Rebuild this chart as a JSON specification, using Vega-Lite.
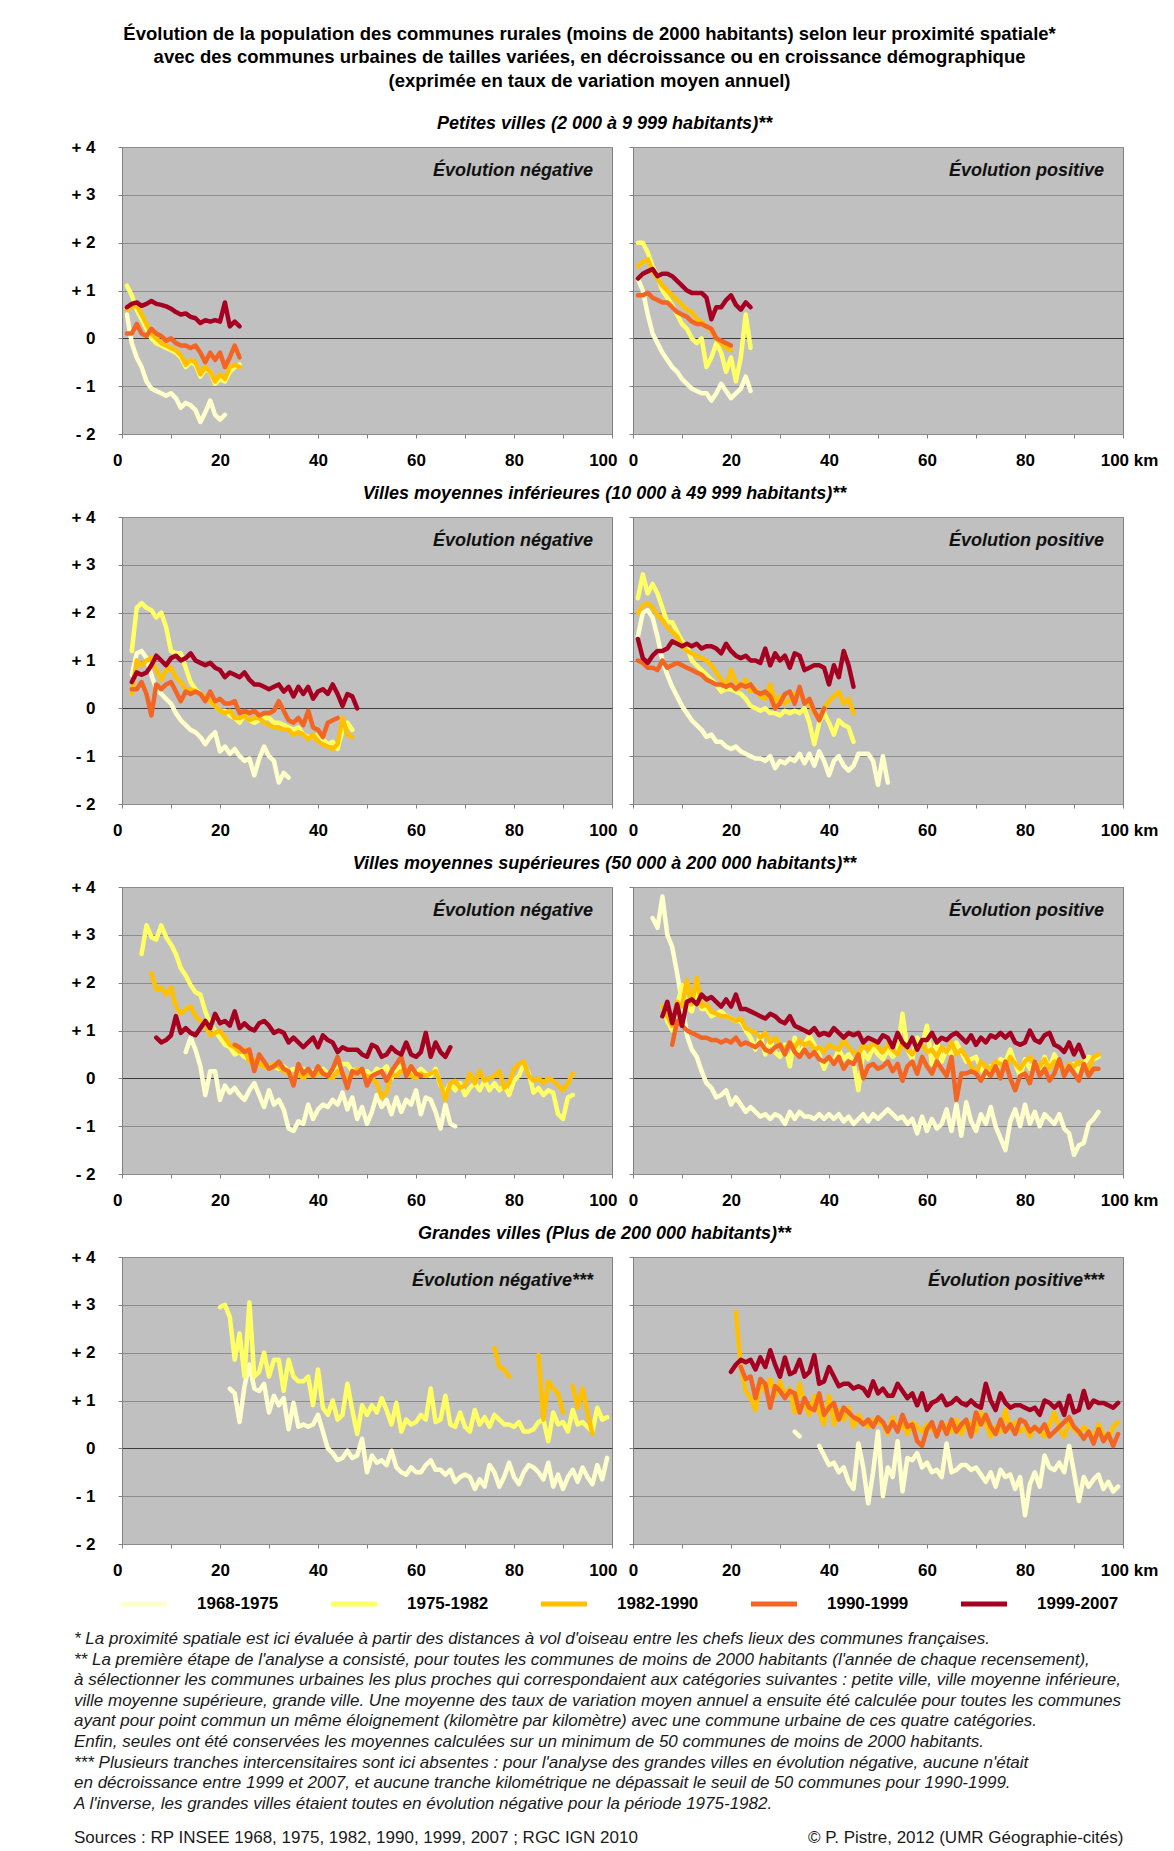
{
"$schema":"https://vega.github.io/schema/vega-lite/v6.json",
"padding":{"left":70,"top":24,"right":8,"bottom":2},
"background":"white",
"title":{"text":["Évolution de la population des communes rurales (moins de 2000 habitants) selon leur proximité spatiale*","avec des communes urbaines de tailles variées, en décroissance ou en croissance démographique","(exprimée en taux de variation moyen annuel)"],"font":"Liberation Sans","fontSize":18.5,"fontWeight":"bold","lineHeight":23.5,"anchor":"middle","frame":"bounds","dx":-26,"offset":24.5,"color":"#000"},
"datasets":{
"periodes":[{"s":"a","periode":"1968-1975"},{"s":"b","periode":"1975-1982"},{"s":"c","periode":"1982-1990"},{"s":"d","periode":"1990-1999"},{"s":"e","periode":"1999-2007"}],
"taux":[
{"p":1,"k":1,"a":0.5,"b":1.1,"c":0.6,"d":0.1,"e":0.65},
{"p":1,"k":2,"a":-0.1,"b":0.9,"c":0.65,"d":0.1,"e":0.72},
{"p":1,"k":3,"a":-0.4,"b":0.6,"c":0.7,"d":0.3,"e":0.75},
{"p":1,"k":4,"a":-0.6,"b":0.4,"c":0.5,"d":0.1,"e":0.68},
{"p":1,"k":5,"a":-0.9,"b":0.2,"c":0.3,"d":0.05,"e":0.72},
{"p":1,"k":6,"a":-1.05,"b":0,"c":0.1,"d":0.2,"e":0.78},
{"p":1,"k":7,"a":-1.1,"b":-0.1,"c":0,"d":0.1,"e":0.72},
{"p":1,"k":8,"a":-1.15,"b":-0.15,"c":-0.1,"d":0.05,"e":0.7},
{"p":1,"k":9,"a":-1.2,"b":-0.2,"c":-0.15,"d":-0.05,"e":0.67},
{"p":1,"k":10,"a":-1.15,"b":-0.25,"c":-0.2,"d":0,"e":0.62},
{"p":1,"k":11,"a":-1.25,"b":-0.3,"c":-0.25,"d":-0.1,"e":0.55},
{"p":1,"k":12,"a":-1.45,"b":-0.4,"c":-0.35,"d":-0.15,"e":0.5},
{"p":1,"k":13,"a":-1.35,"b":-0.6,"c":-0.55,"d":-0.15,"e":0.52},
{"p":1,"k":14,"a":-1.4,"b":-0.5,"c":-0.45,"d":-0.2,"e":0.45},
{"p":1,"k":15,"a":-1.5,"b":-0.55,"c":-0.5,"d":-0.15,"e":0.42},
{"p":1,"k":16,"a":-1.75,"b":-0.8,"c":-0.75,"d":-0.3,"e":0.32},
{"p":1,"k":17,"a":-1.55,"b":-0.65,"c":-0.6,"d":-0.5,"e":0.38},
{"p":1,"k":18,"a":-1.3,"b":-0.7,"c":-0.7,"d":-0.3,"e":0.35},
{"p":1,"k":19,"a":-1.6,"b":-0.95,"c":-0.9,"d":-0.45,"e":0.38},
{"p":1,"k":20,"a":-1.7,"b":-0.85,"c":-0.75,"d":-0.3,"e":0.35},
{"p":1,"k":21,"a":-1.6,"b":-0.9,"c":-0.85,"d":-0.6,"e":0.75},
{"p":1,"k":22,"b":-0.7,"c":-0.6,"d":-0.4,"e":0.25},
{"p":1,"k":23,"b":-0.6,"c":-0.55,"d":-0.15,"e":0.35},
{"p":1,"k":24,"b":-0.55,"c":-0.6,"d":-0.4,"e":0.25},
{"p":2,"k":1,"a":1.25,"b":2,"c":1.5,"d":0.9,"e":1.25},
{"p":2,"k":2,"a":1,"b":2,"c":1.6,"d":0.9,"e":1.35},
{"p":2,"k":3,"a":0.5,"b":1.8,"c":1.65,"d":0.95,"e":1.4},
{"p":2,"k":4,"a":0.1,"b":1.5,"c":1.4,"d":0.85,"e":1.45},
{"p":2,"k":5,"a":-0.1,"b":1.3,"c":1.25,"d":0.8,"e":1.3},
{"p":2,"k":6,"a":-0.3,"b":1,"c":1.1,"d":0.75,"e":1.35},
{"p":2,"k":7,"a":-0.45,"b":0.85,"c":1,"d":0.75,"e":1.35},
{"p":2,"k":8,"a":-0.6,"b":0.7,"c":0.9,"d":0.65,"e":1.3},
{"p":2,"k":9,"a":-0.7,"b":0.5,"c":0.8,"d":0.55,"e":1.2},
{"p":2,"k":10,"a":-0.85,"b":0.3,"c":0.7,"d":0.5,"e":1.1},
{"p":2,"k":11,"a":-0.95,"b":0.2,"c":0.6,"d":0.45,"e":1},
{"p":2,"k":12,"a":-1.05,"b":0,"c":0.55,"d":0.35,"e":0.95},
{"p":2,"k":13,"a":-1.1,"b":-0.1,"c":0.4,"d":0.3,"e":0.95},
{"p":2,"k":14,"a":-1.15,"b":0,"c":0.35,"d":0.3,"e":0.95},
{"p":2,"k":15,"a":-1.15,"b":-0.6,"c":0.25,"d":0.25,"e":0.85},
{"p":2,"k":16,"a":-1.3,"b":-0.4,"c":0.15,"d":0.2,"e":0.4},
{"p":2,"k":17,"a":-1.15,"b":-0.1,"c":0,"d":0,"e":0.65},
{"p":2,"k":18,"a":-0.95,"b":-0.3,"c":-0.1,"d":-0.05,"e":0.65},
{"p":2,"k":19,"a":-1.1,"b":-0.7,"c":-0.2,"d":-0.1,"e":0.8},
{"p":2,"k":20,"a":-1.25,"b":-0.4,"c":-0.25,"d":-0.15,"e":0.9},
{"p":2,"k":21,"a":-1.15,"b":-0.9,"e":0.7},
{"p":2,"k":22,"a":-1.05,"b":-0.4,"e":0.6},
{"p":2,"k":23,"a":-0.8,"b":0.5,"e":0.75},
{"p":2,"k":24,"a":-1.1,"b":-0.2,"e":0.65},
{"p":3,"k":2,"a":0.7,"b":1.2,"c":0.3,"d":0.4,"e":0.55},
{"p":3,"k":3,"a":1.15,"b":2.1,"c":1,"d":0.4,"e":0.75},
{"p":3,"k":4,"a":1.2,"b":2.2,"c":0.9,"d":0.55,"e":0.7},
{"p":3,"k":5,"a":1.05,"b":2.1,"c":1,"d":0.3,"e":0.75},
{"p":3,"k":6,"a":0.7,"b":2.05,"c":1.05,"d":-0.15,"e":0.9},
{"p":3,"k":7,"a":0.4,"b":1.9,"c":0.8,"d":0.5,"e":1.1},
{"p":3,"k":8,"a":0.3,"b":2,"c":0.6,"d":0.4,"e":1},
{"p":3,"k":9,"a":0.2,"b":1.7,"c":0.8,"d":0.5,"e":0.9},
{"p":3,"k":10,"a":0.1,"b":1.2,"c":0.85,"d":0.55,"e":1.05},
{"p":3,"k":11,"a":-0.1,"b":1.15,"c":0.65,"d":0.35,"e":1.1},
{"p":3,"k":12,"a":-0.25,"b":1.15,"c":0.55,"d":0.15,"e":1},
{"p":3,"k":13,"a":-0.35,"b":0.85,"c":0.4,"d":0.35,"e":1.05},
{"p":3,"k":14,"a":-0.45,"b":0.55,"c":0.4,"d":0.3,"e":1.15},
{"p":3,"k":15,"a":-0.5,"b":0.4,"c":0.35,"d":0.35,"e":1},
{"p":3,"k":16,"a":-0.6,"b":0.3,"c":0.3,"d":0.3,"e":0.95},
{"p":3,"k":17,"a":-0.75,"b":0.2,"c":0.25,"d":0.15,"e":0.9},
{"p":3,"k":18,"a":-0.6,"b":0.15,"c":0.15,"d":0.35,"e":0.95},
{"p":3,"k":19,"a":-0.5,"b":0.05,"c":0.05,"d":0.15,"e":0.85},
{"p":3,"k":20,"a":-0.9,"b":-0.05,"c":-0.05,"d":0.2,"e":0.8},
{"p":3,"k":21,"a":-0.8,"b":-0.05,"c":-0.1,"d":0.1,"e":0.65},
{"p":3,"k":22,"a":-0.95,"b":-0.15,"c":-0.05,"d":0.1,"e":0.75},
{"p":3,"k":23,"a":-0.85,"b":-0.2,"c":-0.2,"d":0.15,"e":0.7},
{"p":3,"k":24,"a":-1,"b":-0.3,"c":-0.2,"d":-0.1,"e":0.65},
{"p":3,"k":25,"a":-1.1,"b":-0.15,"c":-0.15,"d":-0.05,"e":0.75},
{"p":3,"k":26,"a":-1.05,"b":-0.25,"c":-0.25,"d":-0.1,"e":0.6},
{"p":3,"k":27,"a":-1.4,"b":-0.3,"c":-0.2,"d":-0.05,"e":0.5},
{"p":3,"k":28,"a":-1.05,"b":-0.25,"c":-0.2,"d":-0.15,"e":0.5},
{"p":3,"k":29,"a":-0.8,"b":-0.2,"c":-0.3,"d":-0.1,"e":0.45},
{"p":3,"k":30,"a":-1,"b":-0.2,"c":-0.35,"d":-0.1,"e":0.4},
{"p":3,"k":31,"a":-1.1,"b":-0.3,"c":-0.4,"d":-0.05,"e":0.45},
{"p":3,"k":32,"a":-1.55,"b":-0.3,"c":-0.4,"d":0.15,"e":0.5},
{"p":3,"k":33,"a":-1.35,"b":-0.35,"c":-0.45,"d":-0.05,"e":0.35},
{"p":3,"k":34,"a":-1.45,"b":-0.4,"c":-0.45,"d":-0.25,"e":0.45},
{"p":3,"k":35,"b":-0.45,"c":-0.55,"d":-0.3,"e":0.25},
{"p":3,"k":36,"b":-0.4,"c":-0.5,"d":-0.2,"e":0.45},
{"p":3,"k":37,"b":-0.55,"c":-0.55,"d":-0.35,"e":0.3},
{"p":3,"k":38,"b":-0.6,"c":-0.65,"d":-0.05,"e":0.45},
{"p":3,"k":39,"b":-0.6,"c":-0.55,"d":-0.4,"e":0.2},
{"p":3,"k":40,"b":-0.55,"c":-0.7,"d":-0.45,"e":0.35},
{"p":3,"k":41,"b":-0.65,"c":-0.75,"d":-0.6,"e":0.4},
{"p":3,"k":42,"b":-0.75,"c":-0.8,"d":-0.3,"e":0.3},
{"p":3,"k":43,"b":-0.7,"c":-0.85,"d":-0.25,"e":0.5},
{"p":3,"k":44,"b":-0.85,"c":-0.75,"d":-0.2,"e":0.3},
{"p":3,"k":45,"b":-0.45,"c":-0.2,"e":0.05},
{"p":3,"k":46,"b":-0.3,"c":-0.55,"e":0.3},
{"p":3,"k":47,"b":-0.45,"c":-0.6,"e":0.25},
{"p":3,"k":48,"e":0},
{"p":4,"k":1,"a":1.5,"b":2.3,"c":2,"d":1,"e":1.45},
{"p":4,"k":2,"a":2,"b":2.8,"c":2.15,"d":0.95,"e":1.05},
{"p":4,"k":3,"a":2.05,"b":2.4,"c":2.2,"d":0.85,"e":0.95},
{"p":4,"k":4,"a":1.9,"b":2.6,"c":2.1,"d":0.85,"e":1.1},
{"p":4,"k":5,"a":1.5,"b":2.4,"c":1.95,"d":0.8,"e":1.2},
{"p":4,"k":6,"a":1,"b":2.1,"c":1.85,"d":1,"e":1.2},
{"p":4,"k":7,"a":0.7,"b":1.8,"c":1.7,"d":0.85,"e":1.25},
{"p":4,"k":8,"a":0.45,"b":1.8,"c":1.6,"d":0.9,"e":1.4},
{"p":4,"k":9,"a":0.25,"b":1.6,"c":1.5,"d":0.95,"e":1.35},
{"p":4,"k":10,"a":0.05,"b":1.4,"c":1.3,"d":0.9,"e":1.3},
{"p":4,"k":11,"a":-0.1,"b":1.3,"c":1.2,"d":0.85,"e":1.35},
{"p":4,"k":12,"a":-0.25,"b":1,"c":1.15,"d":0.8,"e":1.3},
{"p":4,"k":13,"a":-0.35,"b":0.9,"c":1.1,"d":0.75,"e":1.35},
{"p":4,"k":14,"a":-0.45,"b":0.8,"c":1.05,"d":0.7,"e":1.25},
{"p":4,"k":15,"a":-0.6,"b":0.7,"c":1,"d":0.6,"e":1.3},
{"p":4,"k":16,"a":-0.55,"b":0.6,"c":0.9,"d":0.55,"e":1.3},
{"p":4,"k":17,"a":-0.7,"b":0.5,"c":0.75,"d":0.5,"e":1.25},
{"p":4,"k":18,"a":-0.7,"b":0.35,"c":0.6,"d":0.5,"e":1.15},
{"p":4,"k":19,"a":-0.8,"b":0.4,"c":0.45,"d":0.45,"e":1.35},
{"p":4,"k":20,"a":-0.85,"b":0.4,"c":0.8,"d":0.5,"e":1.2},
{"p":4,"k":21,"a":-0.8,"b":0.35,"c":0.55,"d":0.4,"e":1.1},
{"p":4,"k":22,"a":-0.9,"b":0.3,"c":0.45,"d":0.5,"e":1.05},
{"p":4,"k":23,"a":-0.95,"b":0.2,"c":0.6,"d":0.45,"e":1.1},
{"p":4,"k":24,"a":-1,"b":0.05,"c":0.35,"d":0.5,"e":1},
{"p":4,"k":25,"a":-1.05,"b":0,"c":0.4,"d":0.35,"e":1},
{"p":4,"k":26,"a":-1.05,"b":-0.05,"c":0.25,"d":0.3,"e":0.95},
{"p":4,"k":27,"a":-1.1,"b":0,"c":0.2,"d":0.35,"e":1.25},
{"p":4,"k":28,"a":-1,"b":-0.1,"c":0.5,"d":0.25,"e":0.9},
{"p":4,"k":29,"a":-1.25,"b":-0.1,"c":0.15,"d":0,"e":1.15},
{"p":4,"k":30,"a":-1.1,"b":-0.15,"c":0.25,"d":0.1,"e":1},
{"p":4,"k":31,"a":-1.15,"b":-0.05,"c":0.1,"d":0.3,"e":1.1},
{"p":4,"k":32,"a":-1.05,"b":-0.1,"c":0.2,"d":0.35,"e":0.85},
{"p":4,"k":33,"a":-1.1,"b":-0.05,"c":0.3,"d":0.1,"e":1.15},
{"p":4,"k":34,"a":-0.95,"b":-0.1,"c":0.35,"d":0.45,"e":1.1},
{"p":4,"k":35,"a":-1.15,"b":0,"c":0.15,"d":0.1,"e":0.8},
{"p":4,"k":36,"a":-0.95,"b":-0.3,"c":0.1,"d":0.2,"e":0.85},
{"p":4,"k":37,"a":-1.2,"b":-0.75,"c":-0.1,"d":-0.05,"e":0.9},
{"p":4,"k":38,"a":-0.9,"b":-0.3,"c":-0.2,"d":-0.25,"e":0.9},
{"p":4,"k":39,"a":-1.1,"b":-0.1,"c":0,"d":0,"e":0.85},
{"p":4,"k":40,"a":-1.4,"b":-0.3,"c":0.15,"e":0.5},
{"p":4,"k":41,"a":-1.1,"b":-0.55,"c":0.25,"e":0.9},
{"p":4,"k":42,"a":-1,"b":-0.25,"c":0.35,"e":0.65},
{"p":4,"k":43,"a":-1.2,"b":-0.35,"c":0.1,"e":1.2},
{"p":4,"k":44,"a":-1.3,"b":-0.4,"c":0.2,"e":0.9},
{"p":4,"k":45,"a":-1.2,"b":-0.7,"c":-0.1,"e":0.45},
{"p":4,"k":46,"a":-0.95},
{"p":4,"k":47,"a":-0.95},
{"p":4,"k":48,"a":-0.95},
{"p":4,"k":49,"a":-1.1},
{"p":4,"k":50,"a":-1.6},
{"p":4,"k":51,"a":-1},
{"p":4,"k":52,"a":-1.55},
{"p":5,"k":4,"b":2.6},
{"p":5,"k":5,"b":3.2},
{"p":5,"k":6,"b":2.95,"c":2.2},
{"p":5,"k":7,"b":2.9,"c":1.85,"e":0.85},
{"p":5,"k":8,"b":3.2,"c":1.9,"e":0.75},
{"p":5,"k":9,"b":2.95,"c":1.75,"e":0.8},
{"p":5,"k":10,"b":2.8,"c":1.9,"e":0.9},
{"p":5,"k":11,"b":2.6,"c":1.5,"e":1.3},
{"p":5,"k":12,"b":2.3,"c":1.35,"e":0.95},
{"p":5,"k":13,"a":0.55,"b":2.15,"c":1.45,"e":1.05},
{"p":5,"k":14,"a":0.85,"b":1.95,"c":1.5,"e":0.95},
{"p":5,"k":15,"a":0.6,"b":1.8,"c":1.3,"e":0.9},
{"p":5,"k":16,"a":0.25,"b":1.75,"c":1.2,"e":1.05},
{"p":5,"k":17,"a":-0.35,"b":1.4,"c":1.1,"e":1.2},
{"p":5,"k":18,"a":0.15,"b":1.15,"c":0.9,"e":1.05},
{"p":5,"k":19,"a":0.15,"b":1,"c":0.95,"e":1.35},
{"p":5,"k":20,"a":-0.45,"b":0.85,"c":1,"e":1.15},
{"p":5,"k":21,"a":-0.15,"b":0.7,"c":0.85,"e":1.2},
{"p":5,"k":22,"a":-0.3,"b":0.65,"c":0.7,"e":1.1},
{"p":5,"k":23,"a":-0.2,"b":0.5,"c":0.65,"d":0.7,"e":1.4},
{"p":5,"k":24,"a":-0.35,"b":0.55,"c":0.55,"d":0.65,"e":1.05},
{"p":5,"k":25,"a":-0.45,"b":0.45,"c":0.6,"d":0.55,"e":1.15},
{"p":5,"k":26,"a":-0.25,"b":0.4,"c":0.35,"d":0.6,"e":1.05},
{"p":5,"k":27,"a":-0.1,"b":0.3,"c":0.4,"d":0.15,"e":1},
{"p":5,"k":28,"a":-0.35,"b":0.3,"c":0.3,"d":0.5,"e":1.15},
{"p":5,"k":29,"a":-0.6,"b":0.25,"c":0.25,"d":0.35,"e":1.2},
{"p":5,"k":30,"a":-0.25,"b":0.25,"c":0.2,"d":0.2,"e":1.1},
{"p":5,"k":31,"a":-0.55,"b":0.25,"c":0.3,"d":0.25,"e":0.95},
{"p":5,"k":32,"a":-0.45,"b":0.2,"c":0.25,"d":0.35,"e":1},
{"p":5,"k":33,"a":-0.65,"b":0.25,"c":0.15,"d":0.2,"e":0.95},
{"p":5,"k":34,"a":-1.05,"b":0.15,"c":0.1,"d":0.15,"e":0.75},
{"p":5,"k":35,"a":-1.1,"b":0.2,"c":0.05,"d":-0.15,"e":0.85},
{"p":5,"k":36,"a":-0.9,"b":0.15,"c":0.1,"d":0.3,"e":0.75},
{"p":5,"k":37,"a":-0.95,"b":0.2,"c":0,"d":0.1,"e":0.65},
{"p":5,"k":38,"a":-0.55,"b":0.1,"c":0.1,"d":0.2,"e":0.75},
{"p":5,"k":39,"a":-0.85,"b":0.15,"c":0.05,"d":0.05,"e":0.85},
{"p":5,"k":40,"a":-0.65,"b":0.1,"c":0.1,"d":0.25,"e":0.65},
{"p":5,"k":41,"a":-0.55,"b":0.2,"c":0.1,"d":0.1,"e":0.9},
{"p":5,"k":42,"a":-0.6,"b":0.1,"c":0.05,"d":0.05,"e":0.8},
{"p":5,"k":43,"a":-0.45,"b":0.15,"c":0,"d":0.2,"e":0.75},
{"p":5,"k":44,"a":-0.55,"b":0.2,"c":0.15,"d":0.45,"e":0.55},
{"p":5,"k":45,"a":-0.3,"b":0.3,"c":0.1,"d":0.1,"e":0.65},
{"p":5,"k":46,"a":-0.65,"b":0.3,"c":0,"d":-0.2,"e":0.6},
{"p":5,"k":47,"a":-0.4,"b":0.15,"c":0.05,"d":0.15,"e":0.6},
{"p":5,"k":48,"a":-0.85,"b":0.2,"c":0.2,"d":0.1,"e":0.6},
{"p":5,"k":49,"a":-0.6,"b":0.1,"c":0.1,"d":0.2,"e":0.5},
{"p":5,"k":50,"a":-0.95,"b":0.15,"c":0.05,"d":-0.15,"e":0.45},
{"p":5,"k":51,"a":-0.7,"b":0.05,"c":0,"d":0.05,"e":0.7},
{"p":5,"k":52,"a":-0.35,"b":0.2,"c":-0.1,"d":0.1,"e":0.65},
{"p":5,"k":53,"a":-0.6,"b":0.15,"c":-0.4,"d":0.15,"e":0.45},
{"p":5,"k":54,"a":-0.45,"b":0.25,"c":-0.3,"d":-0.05,"e":0.5},
{"p":5,"k":55,"a":-0.75,"b":0,"c":0.1,"d":0.15,"e":0.65},
{"p":5,"k":56,"a":-0.4,"b":0.2,"c":0.05,"d":0.3,"e":0.55},
{"p":5,"k":57,"a":-0.7,"b":0.25,"c":0.15,"d":0.45,"e":0.5},
{"p":5,"k":58,"a":-0.45,"b":0.1,"c":0.2,"d":0.05,"e":0.75},
{"p":5,"k":59,"a":-0.55,"b":0.15,"c":0.05,"d":0.25,"e":0.5},
{"p":5,"k":60,"a":-0.25,"b":0.1,"c":0,"d":0.1,"e":0.45},
{"p":5,"k":61,"a":-0.75,"b":0.2,"c":0.1,"d":0.05,"e":0.55},
{"p":5,"k":62,"a":-0.4,"b":0.1,"c":0.05,"e":0.95},
{"p":5,"k":63,"a":-0.45,"b":0.05,"c":0.1,"e":0.45},
{"p":5,"k":64,"a":-0.7,"b":0.2,"c":0.15,"e":0.75},
{"p":5,"k":65,"a":-1.05,"b":-0.15,"c":-0.1,"e":0.55},
{"p":5,"k":66,"a":-0.55,"b":-0.3,"c":-0.45,"e":0.45},
{"p":5,"k":67,"a":-0.95,"b":-0.1,"c":-0.1,"e":0.65},
{"p":5,"k":68,"a":-1,"b":-0.25,"c":-0.05},
{"p":5,"k":69,"b":-0.1,"c":-0.2},
{"p":5,"k":70,"b":-0.35,"c":-0.15},
{"p":5,"k":71,"b":-0.2,"c":0.1},
{"p":5,"k":72,"b":-0.1,"c":-0.1},
{"p":5,"k":73,"b":-0.25,"c":0.15},
{"p":5,"k":74,"b":-0.05,"c":-0.05},
{"p":5,"k":75,"b":-0.25,"c":0},
{"p":5,"k":76,"b":-0.1,"c":0.05},
{"p":5,"k":77,"b":-0.25,"c":0.15},
{"p":5,"k":78,"b":-0.15,"c":-0.2},
{"p":5,"k":79,"b":-0.35,"c":-0.1},
{"p":5,"k":80,"b":-0.05,"c":0.2},
{"p":5,"k":81,"b":0.05,"c":0.3},
{"p":5,"k":82,"b":0.3,"c":0.35},
{"p":5,"k":83,"b":0.1,"c":0.05},
{"p":5,"k":84,"b":-0.3,"c":-0.05},
{"p":5,"k":85,"b":-0.2,"c":0},
{"p":5,"k":86,"b":-0.35,"c":-0.1},
{"p":5,"k":87,"b":-0.25,"c":0},
{"p":5,"k":88,"b":-0.3,"c":-0.05},
{"p":5,"k":89,"b":-0.75,"c":-0.15},
{"p":5,"k":90,"b":-0.85,"c":-0.25},
{"p":5,"k":91,"b":-0.4,"c":-0.1},
{"p":5,"k":92,"b":-0.35,"c":0.1},
{"p":6,"k":4,"a":3.35},
{"p":6,"k":5,"a":3.15},
{"p":6,"k":6,"a":3.8,"b":1.5,"c":1.5,"e":1.3},
{"p":6,"k":7,"a":3,"b":1.2,"c":1.3,"e":1.6},
{"p":6,"k":8,"a":2.75,"b":1,"c":1.1,"d":0.7,"e":1.15},
{"p":6,"k":9,"a":2.2,"b":1.5,"c":1.6,"d":1.2,"e":1.55},
{"p":6,"k":10,"a":1.6,"b":1.95,"c":1.5,"d":1.1,"e":1.1},
{"p":6,"k":11,"a":0.9,"b":1.5,"c":2.05,"d":1,"e":1.6},
{"p":6,"k":12,"a":0.6,"b":1.4,"c":1.55,"d":0.95,"e":1.65},
{"p":6,"k":13,"a":0.45,"b":1.8,"c":2.1,"d":0.9,"e":1.55},
{"p":6,"k":14,"a":0.15,"b":1.45,"c":1.5,"d":0.85,"e":1.75},
{"p":6,"k":15,"a":-0.1,"b":1.45,"c":1.55,"d":0.85,"e":1.65},
{"p":6,"k":16,"a":-0.2,"b":1.3,"c":1.4,"d":0.8,"e":1.7},
{"p":6,"k":17,"a":-0.4,"b":1.35,"c":1.35,"d":0.8,"e":1.6},
{"p":6,"k":18,"a":-0.35,"b":1.4,"c":1.3,"d":0.75,"e":1.5},
{"p":6,"k":19,"a":-0.25,"b":1.3,"c":1.3,"d":0.8,"e":1.65},
{"p":6,"k":20,"a":-0.55,"b":1.25,"c":1.25,"d":0.75,"e":1.5},
{"p":6,"k":21,"a":-0.4,"b":1.2,"c":1.2,"d":0.85,"e":1.75},
{"p":6,"k":22,"a":-0.55,"b":1.2,"c":1.25,"d":0.7,"e":1.45},
{"p":6,"k":23,"a":-0.7,"b":1,"c":1.05,"d":0.75,"e":1.45},
{"p":6,"k":24,"a":-0.6,"b":0.85,"c":1,"d":0.7,"e":1.4},
{"p":6,"k":25,"a":-0.7,"b":0.6,"c":0.95,"d":0.65,"e":1.35},
{"p":6,"k":26,"a":-0.8,"b":0.9,"c":0.85,"d":0.75,"e":1.3},
{"p":6,"k":27,"a":-0.75,"b":0.5,"c":0.95,"d":0.6,"e":1.25},
{"p":6,"k":28,"a":-0.85,"b":0.8,"c":0.75,"d":0.55,"e":1.35},
{"p":6,"k":29,"a":-0.75,"b":0.55,"c":0.85,"d":0.65,"e":1.3},
{"p":6,"k":30,"a":-0.8,"b":0.45,"c":0.7,"d":0.7,"e":1.2},
{"p":6,"k":31,"a":-0.95,"b":0.7,"c":0.6,"d":0.5,"e":1.15},
{"p":6,"k":32,"a":-0.7,"b":0.25,"c":0.75,"d":0.75,"e":1.3},
{"p":6,"k":33,"a":-0.85,"b":0.85,"c":0.65,"d":0.55,"e":1.1},
{"p":6,"k":34,"a":-0.7,"b":0.5,"c":0.8,"d":0.45,"e":1.05},
{"p":6,"k":35,"a":-0.8,"b":0.7,"c":0.7,"d":0.6,"e":1},
{"p":6,"k":36,"a":-0.8,"b":0.9,"c":0.75,"d":0.45,"e":0.95},
{"p":6,"k":37,"a":-0.85,"b":0.7,"c":0.6,"d":0.55,"e":1.05},
{"p":6,"k":38,"a":-0.75,"b":0.5,"c":0.65,"d":0.4,"e":0.9},
{"p":6,"k":39,"a":-0.85,"b":0.2,"c":0.55,"d":0.35,"e":0.95},
{"p":6,"k":40,"a":-0.75,"b":0.45,"c":0.7,"d":0.45,"e":0.9},
{"p":6,"k":41,"a":-0.85,"b":0.35,"c":0.65,"d":0.3,"e":1.05},
{"p":6,"k":42,"a":-0.75,"b":0.6,"c":0.6,"d":0.45,"e":0.95},
{"p":6,"k":43,"a":-0.9,"b":0.4,"c":0.8,"d":0.2,"e":0.85},
{"p":6,"k":44,"a":-0.8,"b":0.5,"c":0.65,"d":0.35,"e":0.95},
{"p":6,"k":45,"a":-0.95,"b":0.35,"c":0.55,"d":0.3,"e":0.9},
{"p":6,"k":46,"a":-0.85,"b":-0.25,"c":0.5,"d":0.5,"e":0.95},
{"p":6,"k":47,"a":-0.75,"b":0.55,"c":0.7,"d":0,"e":0.75},
{"p":6,"k":48,"a":-0.9,"b":0.4,"c":0.6,"d":0.25,"e":0.85},
{"p":6,"k":49,"a":-0.75,"b":0.65,"c":0.75,"d":0.3,"e":0.8},
{"p":6,"k":50,"a":-0.85,"b":0.5,"c":0.65,"d":0.2,"e":0.75},
{"p":6,"k":51,"a":-0.75,"b":0.4,"c":0.55,"d":0.25,"e":0.9},
{"p":6,"k":52,"a":-0.65,"b":0.6,"c":0.7,"d":0.35,"e":0.85},
{"p":6,"k":53,"a":-0.75,"b":0.45,"c":0.6,"d":0.15,"e":0.65},
{"p":6,"k":54,"a":-0.85,"b":0.55,"c":0.5,"d":0.3,"e":0.95},
{"p":6,"k":55,"a":-0.8,"b":1.35,"c":0.75,"d":-0.05,"e":0.75},
{"p":6,"k":56,"a":-0.95,"b":0.6,"c":0.6,"d":0.25,"e":0.65},
{"p":6,"k":57,"a":-0.85,"b":0.4,"c":0.5,"d":0.35,"e":0.85},
{"p":6,"k":58,"a":-1.15,"b":0.85,"c":0.65,"d":0.1,"e":0.6},
{"p":6,"k":59,"a":-0.8,"b":0.7,"c":0.7,"d":0.45,"e":0.8},
{"p":6,"k":60,"a":-1.1,"b":1.1,"c":0.55,"d":0.25,"e":0.8},
{"p":6,"k":61,"a":-0.85,"b":0.3,"c":0.6,"d":0.1,"e":0.95},
{"p":6,"k":62,"a":-1.05,"b":0.8,"c":0.45,"d":0.35,"e":0.75},
{"p":6,"k":63,"a":-0.95,"b":0.35,"c":0.65,"d":0.2,"e":0.85},
{"p":6,"k":64,"a":-0.65,"b":0.6,"c":0.55,"d":0.05,"e":0.8},
{"p":6,"k":65,"a":-1.1,"b":0.5,"c":0.75,"d":0.45,"e":0.9},
{"p":6,"k":66,"a":-0.55,"b":0.75,"c":0.5,"d":-0.45,"e":0.95},
{"p":6,"k":67,"a":-1.2,"b":0.55,"c":0.6,"d":0.1,"e":0.85},
{"p":6,"k":68,"a":-0.5,"b":0.35,"c":0.45,"d":0.1,"e":0.75},
{"p":6,"k":69,"a":-0.9,"b":0.4,"c":0.25,"d":0.15,"e":0.9},
{"p":6,"k":70,"a":-1.1,"b":0.45,"c":0.1,"d":0.1,"e":0.7},
{"p":6,"k":71,"a":-0.75,"b":0.2,"c":0.35,"d":-0.05,"e":0.85},
{"p":6,"k":72,"a":-0.95,"b":0.05,"c":0.25,"d":0.15,"e":0.75},
{"p":6,"k":73,"a":-0.6,"b":0.25,"c":0.2,"d":0.05,"e":0.9},
{"p":6,"k":74,"a":-1,"b":0.15,"c":0.35,"d":0.25,"e":0.85},
{"p":6,"k":75,"a":-1.25,"b":0.4,"c":0.3,"d":0,"e":0.95},
{"p":6,"k":76,"a":-1.5,"b":0.35,"c":0.2,"d":0.35,"e":0.85},
{"p":6,"k":77,"a":-0.9,"b":0.6,"c":0.45,"d":0,"e":0.95},
{"p":6,"k":78,"a":-0.65,"b":0.3,"c":0.3,"d":-0.25,"e":0.75},
{"p":6,"k":79,"a":-1,"b":0.05,"c":0.2,"d":0.05,"e":0.7},
{"p":6,"k":80,"a":-0.55,"b":0.4,"c":0.35,"d":0.1,"e":0.75},
{"p":6,"k":81,"a":-0.95,"b":0.2,"c":0.45,"d":-0.1,"e":1},
{"p":6,"k":82,"a":-0.7,"b":0.35,"c":0.3,"d":0.35,"e":0.8},
{"p":6,"k":83,"a":-1,"b":0.15,"c":0.25,"d":0.05,"e":0.75},
{"p":6,"k":84,"a":-0.75,"b":0.45,"c":0.4,"d":0.2,"e":0.9},
{"p":6,"k":85,"a":-0.85,"b":0.2,"c":0.2,"d":-0.05,"e":0.95},
{"p":6,"k":86,"a":-0.95,"b":0.5,"c":0.35,"d":0.1,"e":0.7},
{"p":6,"k":87,"a":-0.75,"b":0.3,"c":0.3,"d":0.4,"e":0.65},
{"p":6,"k":88,"a":-1.05,"b":0.1,"c":0.15,"d":0.05,"e":0.55},
{"p":6,"k":89,"a":-1.15,"b":0.25,"c":0.3,"d":0.25,"e":0.75},
{"p":6,"k":90,"a":-1.6,"b":0.3,"c":0.25,"d":0.1,"e":0.5},
{"p":6,"k":91,"a":-1.4,"b":0.15,"c":0.35,"d":-0.05,"e":0.7},
{"p":6,"k":92,"a":-1.35,"b":0.3,"c":0.3,"d":0.3,"e":0.45},
{"p":6,"k":93,"a":-0.95,"b":0.45,"c":0.2,"d":0.05},
{"p":6,"k":94,"a":-0.85,"b":0.4,"c":0.45,"d":0.2},
{"p":6,"k":95,"a":-0.7,"b":0.45,"c":0.5,"d":0.2},
{"p":7,"k":20,"b":2.95},
{"p":7,"k":21,"b":3},
{"p":7,"k":22,"a":1.25,"b":2.75},
{"p":7,"k":23,"a":1.15,"b":1.85},
{"p":7,"k":24,"a":0.55,"b":2.4},
{"p":7,"k":25,"a":1.3,"b":1.5},
{"p":7,"k":26,"a":1.75,"b":3.05},
{"p":7,"k":27,"a":1.25,"b":1.5},
{"p":7,"k":28,"a":1.2,"b":1.6},
{"p":7,"k":29,"a":1.35,"b":2},
{"p":7,"k":30,"a":0.75,"b":1.5},
{"p":7,"k":31,"a":1.1,"b":1.85},
{"p":7,"k":32,"a":0.9,"b":1.85},
{"p":7,"k":33,"a":1.05,"b":1.2},
{"p":7,"k":34,"a":0.4,"b":1.85},
{"p":7,"k":35,"a":0.95,"b":1.5},
{"p":7,"k":36,"a":0.45,"b":1.4},
{"p":7,"k":37,"a":0.5,"b":1.4},
{"p":7,"k":38,"a":0.45,"b":1.5},
{"p":7,"k":39,"a":0.5,"b":0.9},
{"p":7,"k":40,"a":0.7,"b":1.65},
{"p":7,"k":41,"a":0.35,"b":0.85},
{"p":7,"k":42,"a":0,"b":0.7},
{"p":7,"k":43,"a":-0.1,"b":1},
{"p":7,"k":44,"a":-0.25,"b":0.6},
{"p":7,"k":45,"a":-0.2,"b":0.7},
{"p":7,"k":46,"a":-0.05,"b":1.35},
{"p":7,"k":47,"a":-0.2,"b":0.8},
{"p":7,"k":48,"a":-0.15,"b":0.3},
{"p":7,"k":49,"a":0.2,"b":0.9},
{"p":7,"k":50,"a":-0.5,"b":0.7},
{"p":7,"k":51,"a":-0.15,"b":0.9},
{"p":7,"k":52,"a":-0.3,"b":0.75},
{"p":7,"k":53,"a":-0.25,"b":1.05},
{"p":7,"k":54,"a":-0.35,"b":0.8},
{"p":7,"k":55,"a":-0.05,"b":0.5},
{"p":7,"k":56,"a":-0.4,"b":0.95},
{"p":7,"k":57,"a":-0.5,"b":0.35},
{"p":7,"k":58,"a":-0.55,"b":0.6},
{"p":7,"k":59,"a":-0.4,"b":0.5},
{"p":7,"k":60,"a":-0.5,"b":0.55},
{"p":7,"k":61,"a":-0.5,"b":0.7},
{"p":7,"k":62,"a":-0.35,"b":0.6},
{"p":7,"k":63,"a":-0.25,"b":1.25},
{"p":7,"k":64,"a":-0.45,"b":0.55},
{"p":7,"k":65,"a":-0.45,"b":0.6},
{"p":7,"k":66,"a":-0.55,"b":1.1},
{"p":7,"k":67,"a":-0.45,"b":0.5},
{"p":7,"k":68,"a":-0.7,"b":0.45},
{"p":7,"k":69,"a":-0.6,"b":0.75},
{"p":7,"k":70,"a":-0.55,"b":0.45},
{"p":7,"k":71,"a":-0.6,"b":0.35},
{"p":7,"k":72,"a":-0.85,"b":0.8},
{"p":7,"k":73,"a":-0.65,"b":0.5},
{"p":7,"k":74,"a":-0.8,"b":0.65},
{"p":7,"k":75,"a":-0.35,"b":0.45},
{"p":7,"k":76,"a":-0.5,"b":0.7,"c":2.1},
{"p":7,"k":77,"a":-0.8,"b":0.6,"c":1.7},
{"p":7,"k":78,"a":-0.6,"b":0.5,"c":1.65},
{"p":7,"k":79,"a":-0.3,"b":0.5,"c":1.5},
{"p":7,"k":80,"a":-0.6,"b":0.45},
{"p":7,"k":81,"a":-0.75,"b":0.55},
{"p":7,"k":82,"a":-0.5,"b":0.35},
{"p":7,"k":83,"a":-0.35,"b":0.35},
{"p":7,"k":84,"a":-0.4,"b":0.4},
{"p":7,"k":85,"a":-0.5,"b":0.55,"c":1.95},
{"p":7,"k":86,"a":-0.65,"b":0.6,"c":0.6},
{"p":7,"k":87,"a":-0.3,"b":0.15,"c":1.4},
{"p":7,"k":88,"a":-0.8,"b":0.75,"c":1.25},
{"p":7,"k":89,"a":-0.55,"b":0.5,"c":1.15},
{"p":7,"k":90,"a":-0.85,"b":0.55,"c":0.75},
{"p":7,"k":91,"a":-0.6,"b":0.35},
{"p":7,"k":92,"a":-0.45,"b":0.8,"c":1.3},
{"p":7,"k":93,"a":-0.7,"b":0.5,"c":0.85},
{"p":7,"k":94,"a":-0.4,"b":0.55,"c":1.25},
{"p":7,"k":95,"a":-0.6,"b":0.45,"c":0.75},
{"p":7,"k":96,"a":-0.75,"b":0.35,"c":0.3},
{"p":7,"k":97,"a":-0.35,"b":0.85},
{"p":7,"k":98,"a":-0.65,"b":0.6},
{"p":7,"k":99,"a":-0.2,"b":0.65},
{"p":8,"k":20,"e":1.6},
{"p":8,"k":21,"c":2.85,"e":1.75},
{"p":8,"k":22,"c":1.7,"d":1.7,"e":1.85},
{"p":8,"k":23,"c":1.2,"d":1.45,"e":1.8},
{"p":8,"k":24,"c":1.05,"d":1.5,"e":1.85},
{"p":8,"k":25,"c":0.8,"d":1.05,"e":1.65},
{"p":8,"k":26,"c":1.4,"d":1.45,"e":1.9},
{"p":8,"k":27,"c":1.2,"d":1.35,"e":1.7},
{"p":8,"k":28,"c":1.45,"d":0.85,"e":2.05},
{"p":8,"k":29,"c":1.1,"d":1.3,"e":1.75},
{"p":8,"k":30,"c":1.4,"d":1.2,"e":1.5},
{"p":8,"k":31,"c":1.1,"d":1.05,"e":1.9},
{"p":8,"k":32,"c":1.25,"d":1.2,"e":1.55},
{"p":8,"k":33,"a":0.35,"c":0.75,"d":1.15,"e":1.6},
{"p":8,"k":34,"a":0.25,"c":1.35,"d":0.75,"e":1.85},
{"p":8,"k":35,"c":0.95,"d":1.05,"e":1.5},
{"p":8,"k":36,"c":0.7,"d":0.85,"e":1.6},
{"p":8,"k":37,"c":1.1,"d":0.8,"e":1.95},
{"p":8,"k":38,"a":0.05,"c":0.75,"d":1.15,"e":1.35},
{"p":8,"k":39,"a":-0.15,"c":0.5,"d":0.7,"e":1.4},
{"p":8,"k":40,"a":-0.35,"c":1.1,"d":0.85,"e":1.7},
{"p":8,"k":41,"a":-0.3,"c":0.5,"d":0.95,"e":1.5},
{"p":8,"k":42,"a":-0.5,"c":0.8,"d":0.6,"e":1.3},
{"p":8,"k":43,"a":-0.4,"c":0.6,"d":0.85,"e":1.35},
{"p":8,"k":44,"a":-0.7,"c":0.85,"d":0.75,"e":1.35},
{"p":8,"k":45,"a":-0.85,"c":0.45,"d":0.65,"e":1.25},
{"p":8,"k":46,"a":0.1,"c":0.7,"d":0.6,"e":1.3},
{"p":8,"k":47,"a":-0.4,"c":0.55,"d":0.5,"e":1.25},
{"p":8,"k":48,"a":-1.15,"c":0.45,"d":0.6,"e":1.1},
{"p":8,"k":49,"a":-0.5,"c":0.6,"d":0.45,"e":1.4},
{"p":8,"k":50,"a":0.35,"c":0.55,"d":0.65,"e":1.15},
{"p":8,"k":51,"a":-1,"c":0.5,"d":0.55,"e":1.25},
{"p":8,"k":52,"a":-0.4,"c":0.3,"d":0.35,"e":1.1},
{"p":8,"k":53,"a":-0.6,"c":0.65,"d":0.55,"e":1.1},
{"p":8,"k":54,"a":0.15,"c":0.4,"d":0.35,"e":1.35},
{"p":8,"k":55,"a":-0.9,"c":0.5,"d":0.7,"e":1.2},
{"p":8,"k":56,"a":-0.2,"c":0.3,"d":0.45,"e":1.05},
{"p":8,"k":57,"a":-0.25,"c":0.55,"d":0.5,"e":1.15},
{"p":8,"k":58,"a":-0.1,"c":0.45,"d":0.15,"e":0.9},
{"p":8,"k":59,"a":-0.4,"c":0.35,"d":0.05,"e":1.15},
{"p":8,"k":60,"a":-0.3,"c":0.5,"d":0.4,"e":0.8},
{"p":8,"k":61,"a":-0.5,"c":0.4,"d":0.55,"e":0.95},
{"p":8,"k":62,"a":-0.45,"c":0.3,"d":0.25,"e":1},
{"p":8,"k":63,"a":-0.6,"c":0.45,"d":0.55,"e":1.1},
{"p":8,"k":64,"a":0.1,"c":0.5,"d":0.3,"e":0.9},
{"p":8,"k":65,"a":-0.5,"c":0.35,"d":0.6,"e":0.95},
{"p":8,"k":66,"a":-0.45,"c":0.6,"d":0.35,"e":1.05},
{"p":8,"k":67,"a":-0.35,"c":0.3,"d":0.5,"e":0.95},
{"p":8,"k":68,"a":-0.35,"c":0.5,"d":0.6,"e":0.9},
{"p":8,"k":69,"a":-0.45,"c":0.55,"d":0.25,"e":1},
{"p":8,"k":70,"a":-0.4,"c":0.35,"d":0.75,"e":0.9},
{"p":8,"k":71,"a":-0.55,"c":0.75,"d":0.5,"e":0.85},
{"p":8,"k":72,"a":-0.7,"c":0.5,"d":0.7,"e":1.35},
{"p":8,"k":73,"a":-0.5,"c":0.25,"d":0.45,"e":1},
{"p":8,"k":74,"a":-0.8,"c":0.45,"d":0.3,"e":0.8},
{"p":8,"k":75,"a":-0.45,"c":0.35,"d":0.6,"e":1.15},
{"p":8,"k":76,"a":-0.6,"c":0.8,"d":0.35,"e":0.95},
{"p":8,"k":77,"a":-0.55,"c":0.4,"d":0.5,"e":0.85},
{"p":8,"k":78,"a":-0.85,"c":0.55,"d":0.3,"e":0.9},
{"p":8,"k":79,"a":-0.6,"c":0.35,"d":0.6,"e":0.9},
{"p":8,"k":80,"a":-1.4,"c":0.45,"d":0.55,"e":0.85},
{"p":8,"k":81,"a":-0.75,"c":0.25,"d":0.35,"e":0.8},
{"p":8,"k":82,"a":-0.5,"c":0.45,"d":0.45,"e":0.85},
{"p":8,"k":83,"a":-0.8,"c":0.35,"d":0.35,"e":0.7},
{"p":8,"k":84,"a":-0.15,"c":0.25,"d":0.5,"e":1},
{"p":8,"k":85,"a":-0.4,"c":0.5,"d":0.25,"e":0.95},
{"p":8,"k":86,"a":-0.45,"c":0.75,"d":0.35,"e":0.85},
{"p":8,"k":87,"a":-0.3,"c":0.4,"d":0.45,"e":0.95},
{"p":8,"k":88,"a":-0.5,"c":0.25,"d":0.55,"e":0.7},
{"p":8,"k":89,"a":0.05,"c":0.55,"d":0.65,"e":1.1},
{"p":8,"k":90,"a":-0.5,"c":0.4,"d":0.45,"e":0.75},
{"p":8,"k":91,"a":-1.1,"c":0.3,"d":0.35,"e":0.8},
{"p":8,"k":92,"a":-0.6,"c":0.45,"d":0.2,"e":1.2},
{"p":8,"k":93,"a":-0.8,"c":0.35,"d":0.35,"e":0.85},
{"p":8,"k":94,"a":-0.65,"c":0.2,"d":0.1,"e":1},
{"p":8,"k":95,"a":-0.55,"c":0.5,"d":0.4,"e":0.95},
{"p":8,"k":96,"a":-0.85,"c":0.3,"d":0.15,"e":0.95},
{"p":8,"k":97,"a":-0.7,"c":0.2,"d":0.3,"e":0.9},
{"p":8,"k":98,"a":-0.9,"c":0.45,"d":0.05,"e":0.85},
{"p":8,"k":99,"a":-0.8,"c":0.55,"d":0.3,"e":0.95}
]},
"vconcat":[{
"title":{"text":"Sources : RP INSEE 1968, 1975, 1982, 1990, 1999, 2007 ; RGC IGN 2010\u00a0\u00a0\u00a0\u00a0\u00a0\u00a0\u00a0\u00a0\u00a0\u00a0\u00a0\u00a0\u00a0\u00a0\u00a0\u00a0\u00a0\u00a0\u00a0\u00a0\u00a0\u00a0\u00a0\u00a0\u00a0\u00a0\u00a0\u00a0\u00a0\u00a0\u00a0\u00a0\u00a0\u00a0\u00a0\u00a0© P. Pistre, 2012 (UMR Géographie-cités)","orient":"bottom","anchor":"start","frame":"group","dx":-48,"offset":18,"font":"Liberation Sans","fontSize":17,"fontWeight":"normal","fontStyle":"normal","color":"#1a1a1a"},
"spacing":15,
"vconcat":[
{"spacing":15,"vconcat":[
{"title":{"text":"Petites villes (2 000 à 9 999 habitants)**","font":"Liberation Sans","fontSize":18,"fontStyle":"italic","fontWeight":"bold","anchor":"middle","frame":"bounds","dx":-11,"offset":5,"color":"#000"},
"bounds":"flush","spacing":21,"hconcat":[
{"width":490,"height":287,"data":{"name":"taux"},
"transform":[{"filter":"datum.p==1"},{"fold":["a","b","c","d","e"],"as":["s","v"]},{"lookup":"s","from":{"data":{"name":"periodes"},"key":"s","fields":["periode"]}}],
"title":{"text":"Évolution négative","font":"Liberation Sans","fontSize":18,"fontStyle":"italic","fontWeight":"bold","anchor":"end","frame":"group","dx":-19,"offset":-42,"color":"#111"},
"mark":{"type":"line","strokeWidth":4.5,"strokeJoin":"round","strokeCap":"round","invalid":"break-paths-filter-domains"},
"encoding":{
"x":{"field":"k","type":"quantitative","scale":{"domain":[0,100],"nice":false},"axis":{"title":null,"values":[0,10,20,30,40,50,60,70,80,90,100],"labelExpr":"datum.value % 20 === 0 ? datum.label : ''","labelAlign":{"condition":{"test":"datum.value === 100 || datum.value === 0","value":"right"},"value":"center"},"labelOffset":{"condition":{"test":"datum.value === 100","value":5},"value":0},"grid":false}},
"y":{"field":"v","type":"quantitative","scale":{"domain":[-2,4],"nice":false},"axis":{"title":null,"values":[-2,-1,0,1,2,3,4],"labelExpr":"datum.value > 0 ? '+ ' + datum.value : (datum.value < 0 ? '- ' + (-datum.value) : '0')","grid":true,"gridColor":{"condition":{"test":"datum.value === 0","value":"#3c3c3c"},"value":"#8c8c8c"}}},
"color":{"field":"periode","type":"nominal","scale":{"domain":["1968-1975","1975-1982","1982-1990","1990-1999","1999-2007"],"range":["#FFFFCC","#FFFF66","#FFC000","#F26522","#A50021"]},"legend":null}}},
{"width":490,"height":287,"data":{"name":"taux"},
"transform":[{"filter":"datum.p==2"},{"fold":["a","b","c","d","e"],"as":["s","v"]},{"lookup":"s","from":{"data":{"name":"periodes"},"key":"s","fields":["periode"]}}],
"title":{"text":"Évolution positive","font":"Liberation Sans","fontSize":18,"fontStyle":"italic","fontWeight":"bold","anchor":"end","frame":"group","dx":-19,"offset":-33,"color":"#111"},
"mark":{"type":"line","strokeWidth":4.5,"strokeJoin":"round","strokeCap":"round","invalid":"break-paths-filter-domains"},
"encoding":{
"x":{"field":"k","type":"quantitative","scale":{"domain":[0,100],"nice":false},"axis":{"title":null,"values":[0,10,20,30,40,50,60,70,80,90,100],"labelExpr":"datum.value === 100 ? '100  km' : (datum.value % 20 === 0 ? datum.label : '')","labelOffset":{"condition":{"test":"datum.value === 100","value":6},"value":0},"grid":false}},
"y":{"field":"v","type":"quantitative","scale":{"domain":[-2,4],"nice":false},"axis":{"title":null,"values":[-2,-1,0,1,2,3,4],"labels":false,"grid":true,"gridColor":{"condition":{"test":"datum.value === 0","value":"#3c3c3c"},"value":"#8c8c8c"}}},
"color":{"field":"periode","type":"nominal","scale":{"domain":["1968-1975","1975-1982","1982-1990","1990-1999","1999-2007"],"range":["#FFFFCC","#FFFF66","#FFC000","#F26522","#A50021"]},"legend":null}}}
]},
{"title":{"text":"Villes moyennes inférieures (10 000 à 49 999 habitants)**","font":"Liberation Sans","fontSize":18,"fontStyle":"italic","fontWeight":"bold","anchor":"middle","frame":"bounds","dx":-11,"offset":5,"color":"#000"},
"bounds":"flush","spacing":21,"hconcat":[
{"width":490,"height":287,"data":{"name":"taux"},
"transform":[{"filter":"datum.p==3"},{"fold":["a","b","c","d","e"],"as":["s","v"]},{"lookup":"s","from":{"data":{"name":"periodes"},"key":"s","fields":["periode"]}}],
"title":{"text":"Évolution négative","font":"Liberation Sans","fontSize":18,"fontStyle":"italic","fontWeight":"bold","anchor":"end","frame":"group","dx":-19,"offset":-42,"color":"#111"},
"mark":{"type":"line","strokeWidth":4.5,"strokeJoin":"round","strokeCap":"round","invalid":"break-paths-filter-domains"},
"encoding":{
"x":{"field":"k","type":"quantitative","scale":{"domain":[0,100],"nice":false},"axis":{"title":null,"values":[0,10,20,30,40,50,60,70,80,90,100],"labelExpr":"datum.value % 20 === 0 ? datum.label : ''","labelAlign":{"condition":{"test":"datum.value === 100 || datum.value === 0","value":"right"},"value":"center"},"labelOffset":{"condition":{"test":"datum.value === 100","value":5},"value":0},"grid":false}},
"y":{"field":"v","type":"quantitative","scale":{"domain":[-2,4],"nice":false},"axis":{"title":null,"values":[-2,-1,0,1,2,3,4],"labelExpr":"datum.value > 0 ? '+ ' + datum.value : (datum.value < 0 ? '- ' + (-datum.value) : '0')","grid":true,"gridColor":{"condition":{"test":"datum.value === 0","value":"#3c3c3c"},"value":"#8c8c8c"}}},
"color":{"field":"periode","type":"nominal","scale":{"domain":["1968-1975","1975-1982","1982-1990","1990-1999","1999-2007"],"range":["#FFFFCC","#FFFF66","#FFC000","#F26522","#A50021"]},"legend":null}}},
{"width":490,"height":287,"data":{"name":"taux"},
"transform":[{"filter":"datum.p==4"},{"fold":["a","b","c","d","e"],"as":["s","v"]},{"lookup":"s","from":{"data":{"name":"periodes"},"key":"s","fields":["periode"]}}],
"title":{"text":"Évolution positive","font":"Liberation Sans","fontSize":18,"fontStyle":"italic","fontWeight":"bold","anchor":"end","frame":"group","dx":-19,"offset":-33,"color":"#111"},
"mark":{"type":"line","strokeWidth":4.5,"strokeJoin":"round","strokeCap":"round","invalid":"break-paths-filter-domains"},
"encoding":{
"x":{"field":"k","type":"quantitative","scale":{"domain":[0,100],"nice":false},"axis":{"title":null,"values":[0,10,20,30,40,50,60,70,80,90,100],"labelExpr":"datum.value === 100 ? '100  km' : (datum.value % 20 === 0 ? datum.label : '')","labelOffset":{"condition":{"test":"datum.value === 100","value":6},"value":0},"grid":false}},
"y":{"field":"v","type":"quantitative","scale":{"domain":[-2,4],"nice":false},"axis":{"title":null,"values":[-2,-1,0,1,2,3,4],"labels":false,"grid":true,"gridColor":{"condition":{"test":"datum.value === 0","value":"#3c3c3c"},"value":"#8c8c8c"}}},
"color":{"field":"periode","type":"nominal","scale":{"domain":["1968-1975","1975-1982","1982-1990","1990-1999","1999-2007"],"range":["#FFFFCC","#FFFF66","#FFC000","#F26522","#A50021"]},"legend":null}}}
]},
{"title":{"text":"Villes moyennes supérieures (50 000 à 200 000 habitants)**","font":"Liberation Sans","fontSize":18,"fontStyle":"italic","fontWeight":"bold","anchor":"middle","frame":"bounds","dx":-11,"offset":5,"color":"#000"},
"bounds":"flush","spacing":21,"hconcat":[
{"width":490,"height":287,"data":{"name":"taux"},
"transform":[{"filter":"datum.p==5"},{"fold":["a","b","c","d","e"],"as":["s","v"]},{"lookup":"s","from":{"data":{"name":"periodes"},"key":"s","fields":["periode"]}}],
"title":{"text":"Évolution négative","font":"Liberation Sans","fontSize":18,"fontStyle":"italic","fontWeight":"bold","anchor":"end","frame":"group","dx":-19,"offset":-42,"color":"#111"},
"mark":{"type":"line","strokeWidth":4.5,"strokeJoin":"round","strokeCap":"round","invalid":"break-paths-filter-domains"},
"encoding":{
"x":{"field":"k","type":"quantitative","scale":{"domain":[0,100],"nice":false},"axis":{"title":null,"values":[0,10,20,30,40,50,60,70,80,90,100],"labelExpr":"datum.value % 20 === 0 ? datum.label : ''","labelAlign":{"condition":{"test":"datum.value === 100 || datum.value === 0","value":"right"},"value":"center"},"labelOffset":{"condition":{"test":"datum.value === 100","value":5},"value":0},"grid":false}},
"y":{"field":"v","type":"quantitative","scale":{"domain":[-2,4],"nice":false},"axis":{"title":null,"values":[-2,-1,0,1,2,3,4],"labelExpr":"datum.value > 0 ? '+ ' + datum.value : (datum.value < 0 ? '- ' + (-datum.value) : '0')","grid":true,"gridColor":{"condition":{"test":"datum.value === 0","value":"#3c3c3c"},"value":"#8c8c8c"}}},
"color":{"field":"periode","type":"nominal","scale":{"domain":["1968-1975","1975-1982","1982-1990","1990-1999","1999-2007"],"range":["#FFFFCC","#FFFF66","#FFC000","#F26522","#A50021"]},"legend":null}}},
{"width":490,"height":287,"data":{"name":"taux"},
"transform":[{"filter":"datum.p==6"},{"fold":["a","b","c","d","e"],"as":["s","v"]},{"lookup":"s","from":{"data":{"name":"periodes"},"key":"s","fields":["periode"]}}],
"title":{"text":"Évolution positive","font":"Liberation Sans","fontSize":18,"fontStyle":"italic","fontWeight":"bold","anchor":"end","frame":"group","dx":-19,"offset":-33,"color":"#111"},
"mark":{"type":"line","strokeWidth":4.5,"strokeJoin":"round","strokeCap":"round","invalid":"break-paths-filter-domains"},
"encoding":{
"x":{"field":"k","type":"quantitative","scale":{"domain":[0,100],"nice":false},"axis":{"title":null,"values":[0,10,20,30,40,50,60,70,80,90,100],"labelExpr":"datum.value === 100 ? '100  km' : (datum.value % 20 === 0 ? datum.label : '')","labelOffset":{"condition":{"test":"datum.value === 100","value":6},"value":0},"grid":false}},
"y":{"field":"v","type":"quantitative","scale":{"domain":[-2,4],"nice":false},"axis":{"title":null,"values":[-2,-1,0,1,2,3,4],"labels":false,"grid":true,"gridColor":{"condition":{"test":"datum.value === 0","value":"#3c3c3c"},"value":"#8c8c8c"}}},
"color":{"field":"periode","type":"nominal","scale":{"domain":["1968-1975","1975-1982","1982-1990","1990-1999","1999-2007"],"range":["#FFFFCC","#FFFF66","#FFC000","#F26522","#A50021"]},"legend":null}}}
]},
{"title":{"text":"Grandes villes (Plus de 200 000 habitants)**","font":"Liberation Sans","fontSize":18,"fontStyle":"italic","fontWeight":"bold","anchor":"middle","frame":"bounds","dx":-11,"offset":5,"color":"#000"},
"bounds":"flush","spacing":21,"hconcat":[
{"width":490,"height":287,"data":{"name":"taux"},
"transform":[{"filter":"datum.p==7"},{"fold":["a","b","c","d","e"],"as":["s","v"]},{"lookup":"s","from":{"data":{"name":"periodes"},"key":"s","fields":["periode"]}}],
"title":{"text":"Évolution négative***","font":"Liberation Sans","fontSize":18,"fontStyle":"italic","fontWeight":"bold","anchor":"end","frame":"group","dx":-19,"offset":-42,"color":"#111"},
"mark":{"type":"line","strokeWidth":4.5,"strokeJoin":"round","strokeCap":"round","invalid":"break-paths-filter-domains"},
"encoding":{
"x":{"field":"k","type":"quantitative","scale":{"domain":[0,100],"nice":false},"axis":{"title":null,"values":[0,10,20,30,40,50,60,70,80,90,100],"labelExpr":"datum.value % 20 === 0 ? datum.label : ''","labelAlign":{"condition":{"test":"datum.value === 100 || datum.value === 0","value":"right"},"value":"center"},"labelOffset":{"condition":{"test":"datum.value === 100","value":5},"value":0},"grid":false}},
"y":{"field":"v","type":"quantitative","scale":{"domain":[-2,4],"nice":false},"axis":{"title":null,"values":[-2,-1,0,1,2,3,4],"labelExpr":"datum.value > 0 ? '+ ' + datum.value : (datum.value < 0 ? '- ' + (-datum.value) : '0')","grid":true,"gridColor":{"condition":{"test":"datum.value === 0","value":"#3c3c3c"},"value":"#8c8c8c"}}},
"color":{"field":"periode","type":"nominal","scale":{"domain":["1968-1975","1975-1982","1982-1990","1990-1999","1999-2007"],"range":["#FFFFCC","#FFFF66","#FFC000","#F26522","#A50021"]},"legend":null}}},
{"width":490,"height":287,"data":{"name":"taux"},
"transform":[{"filter":"datum.p==8"},{"fold":["a","b","c","d","e"],"as":["s","v"]},{"lookup":"s","from":{"data":{"name":"periodes"},"key":"s","fields":["periode"]}}],
"title":{"text":"Évolution positive***","font":"Liberation Sans","fontSize":18,"fontStyle":"italic","fontWeight":"bold","anchor":"end","frame":"group","dx":-19,"offset":-33,"color":"#111"},
"mark":{"type":"line","strokeWidth":4.5,"strokeJoin":"round","strokeCap":"round","invalid":"break-paths-filter-domains"},
"encoding":{
"x":{"field":"k","type":"quantitative","scale":{"domain":[0,100],"nice":false},"axis":{"title":null,"values":[0,10,20,30,40,50,60,70,80,90,100],"labelExpr":"datum.value === 100 ? '100  km' : (datum.value % 20 === 0 ? datum.label : '')","labelOffset":{"condition":{"test":"datum.value === 100","value":6},"value":0},"grid":false}},
"y":{"field":"v","type":"quantitative","scale":{"domain":[-2,4],"nice":false},"axis":{"title":null,"values":[-2,-1,0,1,2,3,4],"labels":false,"grid":true,"gridColor":{"condition":{"test":"datum.value === 0","value":"#3c3c3c"},"value":"#8c8c8c"}}},
"color":{"field":"periode","type":"nominal","scale":{"domain":["1968-1975","1975-1982","1982-1990","1990-1999","1999-2007"],"range":["#FFFFCC","#FFFF66","#FFC000","#F26522","#A50021"]},"legend":null}}}
]}
]},
{"width":1000,"height":20,"view":{"fill":null,"stroke":null},
"data":{"name":"periodes"},
"title":{"text":["* La proximité spatiale est ici évaluée à partir des distances à vol d'oiseau entre les chefs lieux des communes françaises.","** La première étape de l'analyse a consisté, pour toutes les communes de moins de 2000 habitants (l'année de chaque recensement),","à sélectionner les communes urbaines les plus proches qui correspondaient aux catégories suivantes : petite ville, ville moyenne inférieure,","ville moyenne supérieure, grande ville. Une moyenne des taux de variation moyen annuel a ensuite été calculée pour toutes les communes","ayant pour point commun un même éloignement (kilomètre par kilomètre) avec une commune urbaine de ces quatre catégories.","Enfin, seules ont été conservées les moyennes calculées sur un minimum de 50 communes de moins de 2000 habitants.","*** Plusieurs tranches intercensitaires sont ici absentes : pour l'analyse des grandes villes en évolution négative, aucune n'était","en décroissance entre 1999 et 2007, et aucune tranche kilométrique ne dépassait le seuil de 50 communes pour 1990-1999.","A l'inverse, les grandes villes étaient toutes en évolution négative pour la période 1975-1982."],"orient":"bottom","anchor":"start","frame":"group","dx":-48,"offset":17,"font":"Liberation Sans","fontSize":17,"fontStyle":"italic","fontWeight":"normal","lineHeight":20.6,"color":"#1a1a1a"},
"encoding":{"x":{"field":"periode","type":"nominal","scale":{"type":"point","range":[22,862],"padding":0},"axis":null}},
"layer":[
{"mark":{"type":"point","shape":"stroke","size":2116,"strokeWidth":5,"filled":false,"opacity":1},
"encoding":{"color":{"field":"periode","type":"nominal","scale":{"domain":["1968-1975","1975-1982","1982-1990","1990-1999","1999-2007"],"range":["#FFFFCC","#FFFF66","#FFC000","#F26522","#A50021"]},"legend":null}}},
{"mark":{"type":"text","align":"left","baseline":"middle","dx":53,"font":"Liberation Sans","fontSize":17,"fontWeight":"bold","color":"#000"},
"encoding":{"text":{"field":"periode"}}}
]}
]}],
"config":{
"font":"Liberation Sans",
"view":{"fill":"#C0C0C0","stroke":"#808080","strokeWidth":1},
"axis":{"domain":false,"tickColor":"#808080","tickSize":4,"labelFont":"Liberation Sans","labelFontSize":17,"labelFontWeight":"bold","labelColor":"#000","labelOverlap":false,"labelBound":false,"labelFlush":false,"gridWidth":1},
"axisY":{"labelPadding":23},
"axisX":{"labelPadding":14}
}
}
